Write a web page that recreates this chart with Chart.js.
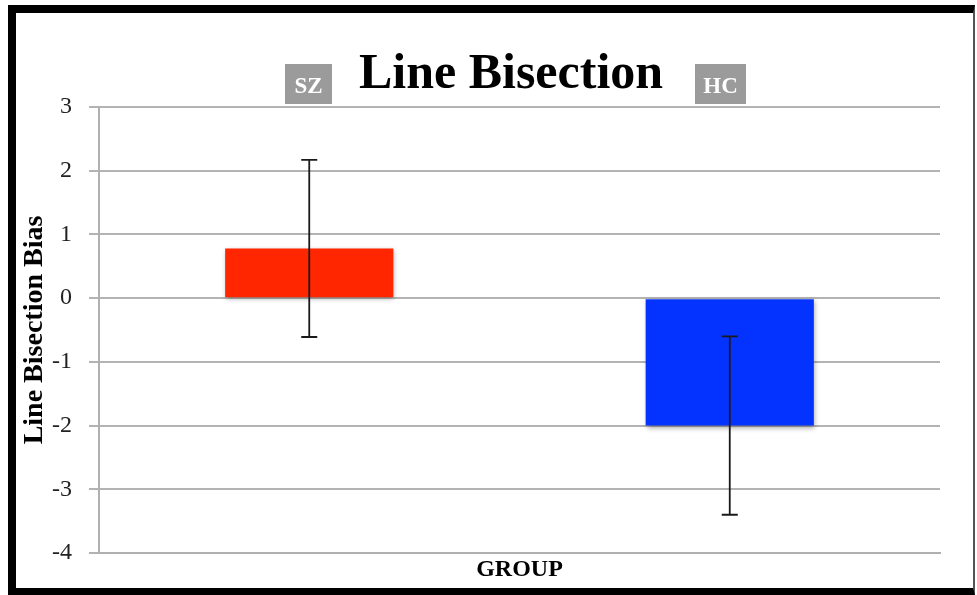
<!DOCTYPE html>
<html>
<head>
<meta charset="utf-8">
<script src="https://cdn.jsdelivr.net/npm/chart.js@4/dist/chart.umd.min.js"></script>
<style>
  body { margin: 0; background: #fff; }
  #wrap { position: relative; width: 977px; height: 595px; }
  #frame {
    position: absolute; left: 8px; top: 5px; right: 2px; bottom: 0;
    border-top: 8px solid #000; border-left: 8px solid #000;
    border-bottom: 7px solid #000; border-right: 2px solid #555;
    pointer-events: none;
  }
</style>
</head>
<body>
<div id="wrap">
  <canvas id="chart" width="977" height="595"></canvas>
  <div id="frame"></div>
</div>
<script>
const groups = ["SZ", "HC"];
const biasMeans = [0.78, -2.0];
const biasErrors = [1.39, 1.40];
const barColors = ["#ff2600", "#0433ff"];
const yTicks = [-4, -3, -2, -1, 0, 1, 2, 3];

const serif = "'Liberation Serif', 'DejaVu Serif', serif";

//shadow under the bars
const barShadow = {
  id: "barShadow",
  beforeDatasetDraw(chart) {
    const ctx = chart.ctx;
    ctx.save();
    ctx.shadowColor = "rgba(0,0,0,0.35)";
    ctx.shadowBlur = 5;
    ctx.shadowOffsetX = 1;
    ctx.shadowOffsetY = 2;
  },
  afterDatasetDraw(chart) {
    chart.ctx.restore();
  },
};

//error bars: mean +/- error
const errorBars = {
  id: "errorBars",
  afterDatasetsDraw(chart) {
    const ctx = chart.ctx;
    const y = chart.scales.y;
    const meta = chart.getDatasetMeta(0);
    ctx.save();
    ctx.strokeStyle = "#1a1a1a";
    ctx.lineWidth = 1.8;
    meta.data.forEach((bar, i) => {
      const top = y.getPixelForValue(biasMeans[i] + biasErrors[i]);
      const bottom = y.getPixelForValue(biasMeans[i] - biasErrors[i]);
      ctx.beginPath();
      ctx.moveTo(bar.x, top);
      ctx.lineTo(bar.x, bottom);
      ctx.moveTo(bar.x - 8, top);
      ctx.lineTo(bar.x + 8, top);
      ctx.moveTo(bar.x - 8, bottom);
      ctx.lineTo(bar.x + 8, bottom);
      ctx.stroke();
    });
    ctx.restore();
  },
};

//title and the grey group tags next to it
const titleTags = {
  id: "titleTags",
  afterDraw(chart) {
    const ctx = chart.ctx;
    ctx.save();
    ctx.fillStyle = "#000";
    ctx.font = "bold 50px " + serif;
    ctx.textAlign = "center";
    ctx.textBaseline = "middle";
    ctx.fillText("Line Bisection", 511, 75);

    const tags = [
      { x: 285, w: 47 },
      { x: 695, w: 51 },
    ];
    ctx.font = "bold 23px " + serif;
    tags.forEach((t, i) => {
      ctx.fillStyle = "#9b9b9b";
      ctx.fillRect(t.x, 64, t.w, 40);
      ctx.fillStyle = "#fff";
      ctx.fillText(groups[i], t.x + t.w / 2, 87);
    });
    ctx.restore();
  },
};

const ctx = document.getElementById("chart");

const chart = new Chart(ctx, {
  type: "bar",
  data: {
    labels: groups,
    datasets: [{
      data: biasMeans,
      backgroundColor: barColors,
      borderWidth: 0,
      categoryPercentage: 1,
      barPercentage: 0.4,
    }],
  },
  options: {
    responsive: false,
    animation: false,
    layout: { padding: { top: 107, right: 37, bottom: 0, left: 0 } },
    plugins: { legend: { display: false }, tooltip: { enabled: false } },
    scales: {
      x: {
        grid: { display: false },
        border: { color: "#b0b0b0", width: 2 },
        ticks: { display: false },
        title: {
          display: true,
          text: "GROUP",
          color: "#000",
          font: { family: serif, size: 24, weight: "bold" },
          padding: { top: 7, bottom: 11 },
        },
        afterFit(scale) { scale.height = 42; },
      },
      y: {
        min: -4,
        max: 3,
        afterBuildTicks(scale) {
          scale.ticks = yTicks.map((v) => ({ value: v }));
        },
        grid: { color: "#b3b3b3", lineWidth: 2, tickLength: 10 },
        border: { color: "#b0b0b0", width: 2 },
        ticks: {
          color: "#222",
          padding: 17,
          font: { family: serif, size: 24 },
        },
        title: {
          display: true,
          text: "Line Bisection Bias",
          color: "#000",
          font: { family: serif, size: 28, weight: "bold" },
          padding: { top: 18, bottom: 0 },
        },
        afterFit(scale) { scale.width = 99; },
      },
    },
  },
  plugins: [barShadow, errorBars, titleTags],
});
</script>
</body>
</html>
